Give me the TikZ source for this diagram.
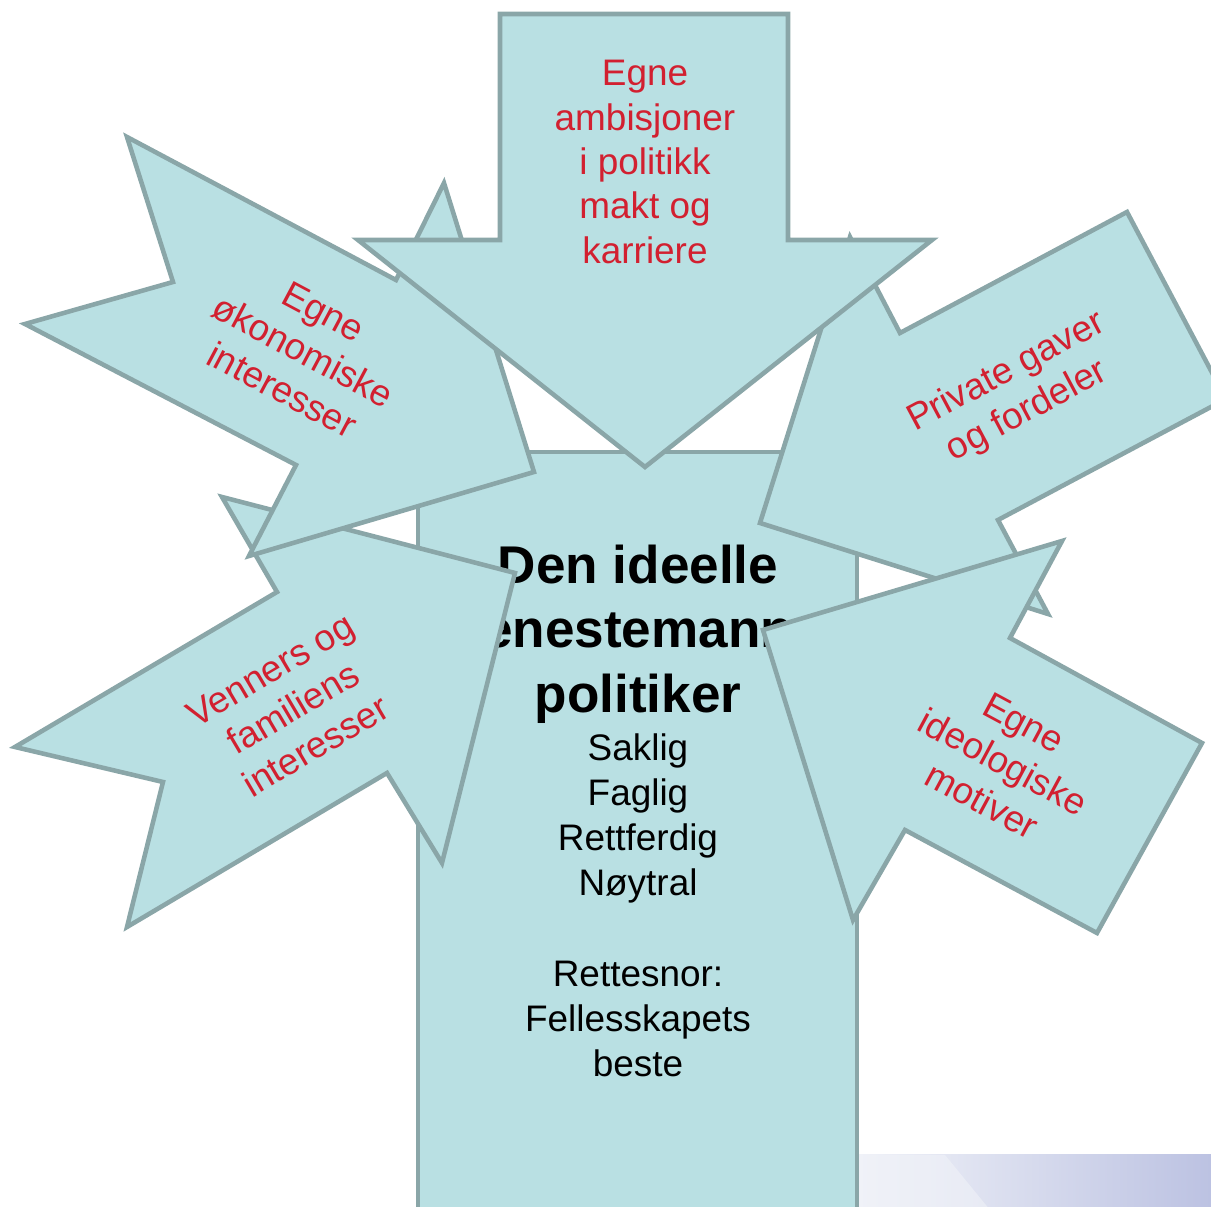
\documentclass[tikz,border=0pt]{standalone}
\usepackage{fontspec}
\setmainfont{Liberation Sans}
\usepackage{tikz}
\usetikzlibrary{positioning}
\definecolor{pilfyll}{RGB}{185,224,227}
\definecolor{pilkant}{RGB}{138,166,168}
\definecolor{pilrod}{RGB}{210,32,48}
\definecolor{logolys}{RGB}{240,242,248}
\definecolor{logomork}{RGB}{188,194,226}

\begin{document}
\begin{tikzpicture}
    [x=0.01cm, y=-0.01cm,
     pil/.style={fill=pilfyll, draw=pilkant, line width=1.3pt},
     rodtekst/.style={text=pilrod, align=center, inner sep=0pt, font=\fontsize{10.5}{12.6}\selectfont},
     sorttekst/.style={align=center, inner sep=0pt, font=\fontsize{10.5}{12.8}\selectfont}]
    \useasboundingbox (0,0) rectangle (1211,1207);
    \clip (0,0) rectangle (1211,1207);

    % logo corner
    \shade [left color=logolys, right color=logomork] (859,1155) rectangle (1211,1210);
    \fill [logolys, opacity=0.6] (859,1155) -- (945,1155) -- (990,1210) -- (859,1210) -- cycle;

    % centre box
    \draw [pil] (418,452) rectangle (857,1220);
    \node (tittel) [align=center, inner sep=0pt, font=\bfseries\fontsize{15.1}{18.35}\selectfont] at (638,634) {Den ideelle\\enestemann\\politiker};
    \node (dyder) [sorttekst, below=0.095cm of tittel] {Saklig\\Faglig\\Rettferdig\\Nøytral\\[12.8pt]Rettesnor:\\Fellesskapets\\beste};

    % venner og familie
    \draw [pil] (515,573) -- (442,863) -- (387,773) -- (127,927) -- (163,782) -- (15,747) -- (277,592) -- (222,497) -- cycle;
    \node (venner) [rodtekst, rotate=30.6] at (293,708) {Venners og\\familiens\\interesser};

    % okonomi
    \draw [pil] (127,137) -- (396,280) -- (444,183) -- (534,472) -- (249,556) -- (296,465) -- (25,324) -- (173,282) -- cycle;
    \node (okonomi) [rodtekst, rotate=-28] at (303,351) {Egne\\økonomiske\\interesser};

    % gaver
    \draw [pil] (760,523) -- (850,237) -- (900,333) -- (1127,212) -- (1226,399) -- (998,520) -- (1048,614) -- cycle;
    \node (gaver) [rodtekst, rotate=28] at (1017,392) {Private gaver\\og fordeler};

    % ideologi
    \draw [pil] (763,630) -- (1062,541) -- (1010,638) -- (1202,743) -- (1097,933) -- (905,830) -- (853,920) -- cycle;
    \node (ideologi) [rodtekst, rotate=-28.3] at (1003,762) {Egne\\ideologiske\\motiver};

    % ambisjoner
    \draw [pil] (500,14) -- (788,14) -- (788,240) -- (932,240) -- (645,467) -- (358,240) -- (500,240) -- cycle;
    \node (ambisjoner) [rodtekst] at (645,162) {Egne\\ambisjoner\\i politikk\\makt og\\karriere};
\end{tikzpicture}
\end{document}
